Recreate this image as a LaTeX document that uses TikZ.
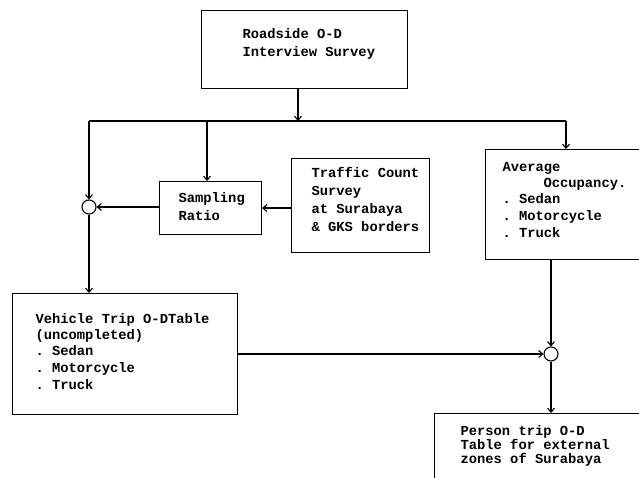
\documentclass[tikz,border=0pt]{standalone}
\usepackage{fontspec}
\setmonofont{Liberation Mono}
\usetikzlibrary{arrows.meta}
\begin{document}
\begin{tikzpicture}[x=1bp,y=-1bp,
  line width=1.1bp,
  boxn/.style={draw, rectangle, inner sep=0pt, anchor=north west},
  txt/.style={anchor=base west, inner sep=0pt, font=\ttfamily\bfseries\fontsize{13.8bp}{17bp}\selectfont},
  junc/.style={draw, circle, inner sep=0pt, minimum size=14bp},
  arr/.style={-{Straight Barb[length=4bp,width=7bp]}}]
\clip (0,0) rectangle (639,478);
\fill[white] (0,0) rectangle (639,478);
% boxes
\node[boxn, minimum width=206bp, minimum height=78bp] (road) at (201,10) {};
\node[boxn, minimum width=102bp, minimum height=53bp] (samp) at (159,181) {};
\node[boxn, minimum width=138bp, minimum height=94bp] (traf) at (291,158) {};
\node[boxn, minimum width=170bp, minimum height=110bp] (avg) at (485,149) {};
\node[boxn, minimum width=225bp, minimum height=121bp] (veh) at (12,293) {};
\node[boxn, minimum width=220bp, minimum height=90bp] (pers) at (434,413) {};
% junction circles
\node[junc] (c1) at (89,207) {};
\node[junc] (c2) at (551,354) {};
% texts
\node[txt] (t1) at (242,39) {Roadside O-D};
\node[txt] (t2) at (242,57) {Interview Survey};
\node[txt] (t3) at (178,203) {Sampling};
\node[txt] (t4) at (178,221) {Ratio};
\node[txt] (t5) at (311,178) {Traffic Count};
\node[txt] (t6) at (311,196) {Survey};
\node[txt] (t7) at (311,214) {at Surabaya};
\node[txt] (t8) at (311,232) {\& GKS borders};
\node[txt] (t9) at (502,172) {Average};
\node[txt] (t10) at (543,188) {Occupancy.};
\node[txt] (t11) at (502,204) {. Sedan};
\node[txt] (t12) at (502,221) {. Motorcycle};
\node[txt] (t13) at (502,238) {. Truck};
\node[txt] (t14) at (35,323) {Vehicle Trip O-DTable};
\node[txt] (t15) at (35,339) {(uncompleted)};
\node[txt] (t16) at (35,355) {. Sedan};
\node[txt] (t17) at (35,372) {. Motorcycle};
\node[txt] (t18) at (35,389) {. Truck};
\node[txt] (t19) at (460,435) {Person trip O-D};
\node[txt] (t20) at (460,449) {Table for external};
\node[txt] (t21) at (460,463) {zones of Surabaya};
% connectors
\coordinate (jl) at (89,121);
\coordinate (jm) at (207,121);
\coordinate (jc) at (298,121);
\coordinate (jr) at (566,121);
\draw[arr] (jc |- road.south) -- (jc);
\draw (jl) -- (jr);
\draw[arr] (jl) -- (c1.north);
\draw[arr] (jm) -- (jm |- samp.north);
\draw[arr] (jr) -- (jr |- avg.north);
\draw[arr] (samp.west |- c1) -- (c1.east);
\draw[arr] (traf.west |- samp.east) -- (samp.east);
\draw[arr] (c1.south) -- (c1 |- veh.north);
\draw[arr] (veh.east |- c2) -- (c2.west);
\draw[arr] (c2 |- avg.south) -- (c2.north);
\draw[arr] (c2.south) -- (c2 |- pers.north);
\end{tikzpicture}
\end{document}
